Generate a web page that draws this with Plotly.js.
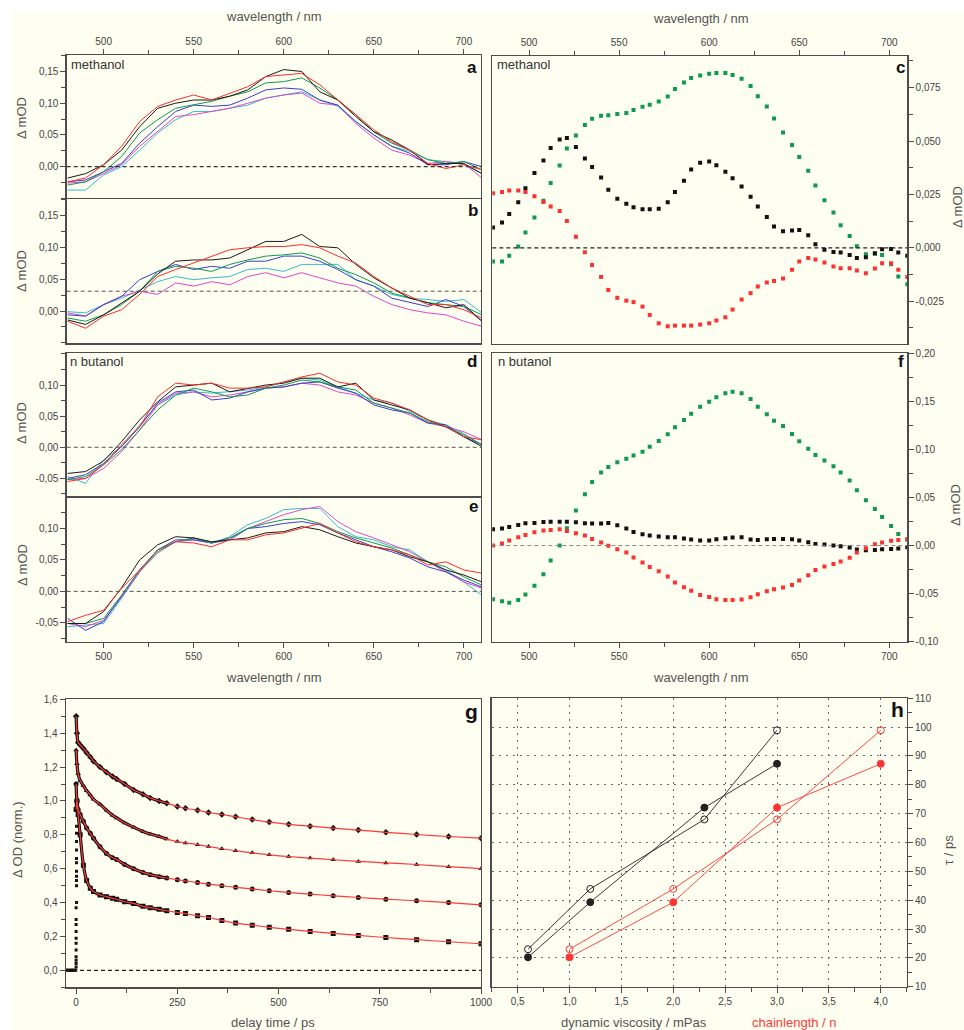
<!DOCTYPE html>
<html>
<head>
<meta charset="utf-8">
<script src="https://cdn.plot.ly/plotly-3.0.1.min.js"></script>
<style>
  html, body { margin: 0; padding: 0; background: #ffffff; }
  #chart { width: 964px; height: 1030px; }
</style>
</head>
<body>
<div id="chart"></div>
<script>
// ---------- transient spectra (a, b: methanol; d, e: n-butanol), ΔmOD vs wavelength ----------
const specNm = [480,490,500,510,520,530,540,550,560,570,580,590,600,610,620,630,640,650,660,670,680,690,700,710];

const aBlack   = [-0.018,-0.011,0.003,0.026,0.063,0.092,0.100,0.105,0.105,0.111,0.121,0.142,0.153,0.150,0.118,0.105,0.079,0.055,0.042,0.026,0.003,0.005,0.005,-0.011];
const aRed     = [-0.024,-0.018,0.003,0.032,0.071,0.095,0.105,0.113,0.105,0.116,0.126,0.142,0.145,0.147,0.129,0.105,0.082,0.058,0.039,0.026,0.005,-0.003,0.003,-0.005];
const aGreen   = [-0.029,-0.024,-0.008,0.016,0.053,0.074,0.092,0.097,0.103,0.111,0.118,0.132,0.134,0.140,0.124,0.105,0.082,0.055,0.037,0.026,0.011,0.005,0.008,-0.005];
const aBlue    = [-0.024,-0.021,-0.008,0.005,0.037,0.063,0.087,0.097,0.095,0.097,0.108,0.121,0.124,0.122,0.105,0.097,0.071,0.050,0.032,0.021,0.003,0.003,0.008,0.000];
const aMagenta = [-0.026,-0.024,-0.011,0.003,0.032,0.055,0.079,0.082,0.087,0.092,0.100,0.108,0.113,0.116,0.100,0.097,0.068,0.045,0.026,0.018,0.005,0.008,0.005,-0.018];
const aCyan    = [-0.037,-0.037,-0.013,0.000,0.026,0.053,0.074,0.087,0.087,0.092,0.097,0.108,0.113,0.118,0.105,0.095,0.071,0.050,0.032,0.024,0.011,0.008,0.003,-0.011];

const bBlack   = [-0.014,-0.021,-0.006,0.013,0.031,0.058,0.078,0.080,0.080,0.083,0.096,0.109,0.109,0.120,0.101,0.099,0.073,0.052,0.036,0.020,0.013,0.005,0.010,-0.016];
const bRed     = [-0.016,-0.027,-0.008,0.002,0.026,0.054,0.065,0.075,0.086,0.096,0.099,0.101,0.101,0.104,0.099,0.086,0.075,0.054,0.036,0.023,0.010,0.010,0.002,-0.011];
const bGreen   = [-0.011,-0.016,-0.006,0.010,0.031,0.062,0.070,0.067,0.062,0.073,0.080,0.086,0.088,0.091,0.083,0.067,0.057,0.044,0.028,0.020,0.013,0.010,0.007,-0.006];
const bBlue    = [-0.006,-0.008,0.010,0.023,0.049,0.062,0.073,0.065,0.070,0.067,0.078,0.078,0.086,0.086,0.078,0.065,0.049,0.039,0.020,0.013,0.007,0.018,0.007,-0.016];
const bMagenta = [-0.003,-0.008,0.010,0.023,0.031,0.026,0.044,0.039,0.046,0.041,0.054,0.060,0.052,0.060,0.052,0.044,0.039,0.023,0.010,0.002,-0.003,-0.006,-0.016,-0.024];
const bCyan    = [-0.001,-0.003,0.010,0.020,0.033,0.046,0.054,0.049,0.052,0.054,0.065,0.067,0.062,0.073,0.073,0.073,0.049,0.039,0.026,0.020,0.018,0.015,0.018,-0.003];
const bBaseline = 0.031;

const dBlack   = [-0.042,-0.039,-0.022,0.009,0.044,0.073,0.097,0.100,0.103,0.089,0.095,0.100,0.103,0.111,0.111,0.097,0.103,0.076,0.068,0.060,0.044,0.033,0.017,0.001];
const dRed     = [-0.055,-0.050,-0.028,0.004,0.033,0.081,0.103,0.100,0.103,0.095,0.095,0.097,0.105,0.113,0.119,0.105,0.100,0.079,0.071,0.060,0.044,0.033,0.017,0.012];
const dGreen   = [-0.052,-0.047,-0.028,-0.004,0.028,0.060,0.084,0.095,0.089,0.081,0.084,0.095,0.100,0.108,0.105,0.097,0.092,0.071,0.063,0.055,0.041,0.033,0.020,0.004];
const dBlue    = [-0.050,-0.044,-0.026,0.001,0.033,0.071,0.089,0.092,0.076,0.079,0.089,0.095,0.097,0.103,0.105,0.095,0.087,0.068,0.060,0.055,0.039,0.036,0.017,0.004];
const dMagenta = [-0.052,-0.050,-0.034,-0.007,0.028,0.068,0.087,0.089,0.081,0.084,0.089,0.095,0.097,0.103,0.100,0.089,0.084,0.071,0.063,0.052,0.039,0.033,0.025,0.012];
const dCyan    = [-0.047,-0.058,-0.020,0.001,0.036,0.068,0.084,0.089,0.087,0.089,0.092,0.097,0.105,0.111,0.108,0.097,0.087,0.076,0.071,0.057,0.044,0.036,0.022,0.004];

const eBlack   = [-0.051,-0.051,-0.032,0.006,0.050,0.074,0.087,0.085,0.079,0.082,0.085,0.093,0.095,0.103,0.098,0.087,0.077,0.071,0.066,0.055,0.047,0.034,0.026,0.015];
const eRed     = [-0.048,-0.038,-0.030,0.005,0.034,0.063,0.079,0.077,0.071,0.082,0.082,0.090,0.093,0.100,0.108,0.093,0.079,0.071,0.066,0.058,0.042,0.047,0.034,0.029];
const eGreen   = [-0.051,-0.051,-0.043,-0.006,0.034,0.066,0.079,0.085,0.077,0.085,0.100,0.108,0.114,0.116,0.108,0.095,0.085,0.077,0.069,0.058,0.047,0.039,0.023,0.010];
const eBlue    = [-0.043,-0.062,-0.048,-0.006,0.034,0.066,0.082,0.082,0.077,0.082,0.100,0.103,0.108,0.111,0.106,0.093,0.082,0.071,0.063,0.053,0.039,0.031,0.018,0.007];
const eMagenta = [-0.051,-0.056,-0.046,-0.009,0.031,0.066,0.079,0.082,0.077,0.085,0.100,0.111,0.122,0.130,0.135,0.111,0.095,0.085,0.074,0.063,0.047,0.031,0.015,0.005];
const eCyan    = [-0.056,-0.054,-0.051,-0.011,0.031,0.061,0.079,0.085,0.077,0.087,0.106,0.116,0.130,0.132,0.132,0.103,0.087,0.082,0.071,0.066,0.047,0.034,0.015,-0.006];

// ---------- decay-associated amplitudes (c: methanol, f: n-butanol) ----------
const dotNm = [480,485,489,494,498,503,508,512,517,521,526,531,535,540,544,549,554,558,563,567,572,577,581,586,590,595,600,604,609,613,618,623,627,632,636,641,646,650,655,659,664,669,673,678,682,687,692,696,701,705,710];

const cGreen = [-0.0064,-0.0064,-0.0037,0.0006,0.0072,0.0142,0.0220,0.0303,0.0386,0.0465,0.0526,0.0575,0.0604,0.0618,0.0621,0.0626,0.0631,0.0645,0.0660,0.0670,0.0685,0.0709,0.0743,0.0774,0.0795,0.0807,0.0815,0.0818,0.0818,0.0809,0.0792,0.0757,0.0710,0.0662,0.0606,0.0540,0.0482,0.0425,0.0361,0.0292,0.0223,0.0165,0.0106,0.0056,0.0008,-0.0030,-0.0028,-0.0033,-0.0077,-0.0134,-0.0170];
const cBlack = [0.0095,0.0119,0.0159,0.0214,0.0279,0.0350,0.0409,0.0467,0.0507,0.0514,0.0472,0.0418,0.0378,0.0329,0.0272,0.0230,0.0206,0.0190,0.0181,0.0181,0.0183,0.0214,0.0261,0.0314,0.0367,0.0398,0.0404,0.0387,0.0356,0.0326,0.0287,0.0239,0.0194,0.0144,0.0100,0.0078,0.0081,0.0084,0.0059,0.0017,-0.0009,-0.0019,-0.0022,-0.0033,-0.0047,-0.0044,-0.0025,-0.0006,-0.0005,-0.0022,-0.0037];
const cRed   = [0.0256,0.0262,0.0269,0.0269,0.0261,0.0242,0.0215,0.0194,0.0172,0.0126,0.0052,-0.0020,-0.0080,-0.0136,-0.0197,-0.0234,-0.0247,-0.0254,-0.0275,-0.0314,-0.0353,-0.0367,-0.0364,-0.0364,-0.0364,-0.0359,-0.0353,-0.0340,-0.0325,-0.0289,-0.0242,-0.0212,-0.0181,-0.0162,-0.0155,-0.0144,-0.0103,-0.0064,-0.0048,-0.0055,-0.0069,-0.0087,-0.0095,-0.0095,-0.0106,-0.0119,-0.0097,-0.0072,-0.0072,-0.0103,-0.0136];

const fGreen = [-0.0558,-0.0579,-0.0596,-0.0565,-0.0509,-0.0419,-0.0298,-0.0156,0.0000,0.0180,0.0364,0.0534,0.0662,0.0759,0.0818,0.0866,0.0904,0.0936,0.0977,0.1029,0.1088,0.1157,0.1230,0.1306,0.1372,0.1445,0.1497,0.1542,0.1584,0.1601,0.1584,0.1525,0.1445,0.1365,0.1299,0.1244,0.1161,0.1085,0.1008,0.0942,0.0884,0.0825,0.0759,0.0676,0.0575,0.0471,0.0381,0.0298,0.0204,0.0121,0.0062];
const fBlack = [0.0170,0.0177,0.0194,0.0215,0.0232,0.0236,0.0246,0.0249,0.0249,0.0249,0.0243,0.0232,0.0229,0.0229,0.0236,0.0211,0.0177,0.0142,0.0118,0.0104,0.0094,0.0087,0.0087,0.0073,0.0062,0.0052,0.0052,0.0066,0.0076,0.0083,0.0087,0.0062,0.0059,0.0066,0.0069,0.0069,0.0066,0.0052,0.0035,0.0017,0.0010,0.0000,-0.0007,-0.0021,-0.0042,-0.0049,-0.0045,-0.0038,-0.0035,-0.0031,-0.0017];
const fRed   = [0.0000,0.0021,0.0052,0.0087,0.0111,0.0139,0.0156,0.0163,0.0170,0.0152,0.0128,0.0104,0.0069,0.0031,-0.0003,-0.0038,-0.0073,-0.0125,-0.0177,-0.0222,-0.0267,-0.0322,-0.0385,-0.0433,-0.0471,-0.0513,-0.0534,-0.0558,-0.0565,-0.0565,-0.0561,-0.0537,-0.0506,-0.0475,-0.0454,-0.0437,-0.0409,-0.0364,-0.0308,-0.0253,-0.0218,-0.0191,-0.0166,-0.0128,-0.0073,-0.0028,0.0014,0.0031,0.0049,0.0059,0.0066];

// ---------- normalised kinetics (g), ΔOD vs delay time ----------
const gT  = [0,2,5,10,18,26,35,43,59,75,90,100,120,142,165,183,205,224,250,270,300,327,360,394,435,477,525,578,635,697,765,841,920,1000];
const g1V = [1.50,1.40,1.345,1.33,1.31,1.285,1.26,1.235,1.20,1.17,1.145,1.13,1.10,1.065,1.04,1.018,1.00,0.987,0.967,0.957,0.945,0.932,0.92,0.906,0.89,0.875,0.862,0.851,0.84,0.828,0.815,0.802,0.79,0.78];
const g2V = [1.30,1.22,1.16,1.12,1.09,1.06,1.035,1.01,0.98,0.945,0.915,0.90,0.87,0.845,0.82,0.805,0.79,0.775,0.76,0.752,0.742,0.731,0.718,0.706,0.694,0.682,0.672,0.663,0.653,0.643,0.634,0.625,0.612,0.60];
const g3V = [1.10,1.00,0.95,0.92,0.88,0.84,0.81,0.78,0.73,0.69,0.665,0.655,0.625,0.600,0.578,0.565,0.553,0.545,0.535,0.528,0.518,0.509,0.50,0.49,0.48,0.47,0.46,0.45,0.44,0.43,0.42,0.411,0.40,0.387];
const g4V = [0.95,1.00,0.92,0.80,0.62,0.53,0.485,0.465,0.445,0.435,0.425,0.42,0.405,0.395,0.378,0.37,0.36,0.352,0.342,0.335,0.322,0.312,0.295,0.279,0.267,0.254,0.242,0.23,0.218,0.206,0.194,0.181,0.169,0.157];
// pre-zero baseline and the instrument-limited rise
const gRiseT = [-24,-21,-18,-15,-12,-9,-6,-3,-1, 0,0,0,0,0,0,0,0,0,0,0, 1,1,1,1,1,1,1,1,1,1,1];
const gRiseV = [0,0,0,0,0,0,0,0,0, 0.02,0.04,0.06,0.08,0.12,0.16,0.19,0.23,0.27,0.30,0.37, 0.40,0.50,0.53,0.555,0.585,0.635,0.66,0.71,0.76,0.81,0.85];

// ---------- lifetimes (h) ----------
const hViscosity = [0.6, 1.2, 2.3, 3.0];
const hChain     = [1, 2, 3, 4];
const hTauFilled = [20.2, 39.3, 72.1, 87.3];
const hTauOpen   = [23.0, 43.9, 68.0, 98.9];

// ---------- tick labels ----------
const nmTickVals = [500, 550, 600, 650, 700];
const nmTickText = ['500', '550', '600', '650', '700'];
const abTickVals = [0, 0.05, 0.10, 0.15];
const abTickText = ['0,00', '0,05', '0,10', '0,15'];
const deTickVals = [-0.05, 0, 0.05, 0.10];
const deTickText = ['-0,05', '0,00', '0,05', '0,10'];
const cTickVals  = [-0.025, 0, 0.025, 0.05, 0.075];
const cTickText  = ['-0,025', '0,000', '0,025', '0,050', '0,075'];
const fTickVals  = [-0.10, -0.05, 0, 0.05, 0.10, 0.15, 0.20];
const fTickText  = ['-0,10', '-0,05', '0,00', '0,05', '0,10', '0,15', '0,20'];
const gYTickVals = [0, 0.2, 0.4, 0.6, 0.8, 1.0, 1.2, 1.4, 1.6];
const gYTickText = ['0,0', '0,2', '0,4', '0,6', '0,8', '1,0', '1,2', '1,4', '1,6'];
const gXTickVals = [0, 250, 500, 750, 1000];
const gXTickText = ['0', '250', '500', '750', '1000'];
const hXTickVals = [0.5, 1.0, 1.5, 2.0, 2.5, 3.0, 3.5, 4.0];
const hXTickText = ['0,5', '1,0', '1,5', '2,0', '2,5', '3,0', '3,5', '4,0'];
const hYTickVals = [10, 20, 30, 40, 50, 60, 70, 80, 90, 100, 110];
const hYTickText = ['10', '20', '30', '40', '50', '60', '70', '80', '90', '100', '110'];

// ---------- styling ----------
const W = 964, H = 1030;
const CREAM = '#fefef1';
const FONT = 'Liberation Sans, Arial, Helvetica, sans-serif';
const COL = { black: '#1a1a1a', red: '#ff2b2b', green: '#109a50', blue: '#3c3cd0', magenta: '#e048c8', cyan: '#36bccb' };

const xd = (l, r) => [l / W, r / W];
const yd = (t, b) => [1 - b / H, 1 - t / H];

function axis(opts) {
  return Object.assign({
    showline: true, linecolor: '#4d4d4d', linewidth: 1.3, mirror: true,
    ticks: 'outside', ticklen: 5, tickwidth: 1, tickcolor: '#4d4d4d',
    tickmode: 'array',
    tickfont: { family: FONT, size: 10, color: '#444' },
    showgrid: false, zeroline: false, fixedrange: true
  }, opts);
}
function minor(dtick, tick0) {
  return { tickmode: 'linear', dtick: dtick, tick0: tick0, ticks: 'outside', ticklen: 4, tickcolor: '#4d4d4d', showgrid: false };
}

function lines(x, y, color, xa, ya) {
  return { type: 'scatter', mode: 'lines', x: x, y: y, xaxis: xa, yaxis: ya,
           line: { color: color, width: 1 }, hoverinfo: 'skip' };
}
function dots(x, y, color, xa, ya) {
  return { type: 'scatter', mode: 'markers', x: x, y: y, xaxis: xa, yaxis: ya,
           marker: { symbol: 'square', size: 4, color: color }, hoverinfo: 'skip' };
}
function spectraSet(sets, xa, ya) {
  return sets.map(([y, c]) => lines(specNm, y, c, xa, ya));
}

const traces = [];
traces.push(...spectraSet([[aCyan, COL.cyan], [aMagenta, COL.magenta], [aBlue, COL.blue], [aGreen, COL.green], [aBlack, COL.black], [aRed, COL.red]], 'x', 'y'));
traces.push(...spectraSet([[bCyan, COL.cyan], [bMagenta, COL.magenta], [bBlue, COL.blue], [bGreen, COL.green], [bBlack, COL.black], [bRed, COL.red]], 'x2', 'y2'));
traces.push(...spectraSet([[dCyan, COL.cyan], [dMagenta, COL.magenta], [dBlue, COL.blue], [dGreen, COL.green], [dBlack, COL.black], [dRed, COL.red]], 'x4', 'y4'));
traces.push(...spectraSet([[eCyan, COL.cyan], [eMagenta, COL.magenta], [eBlue, COL.blue], [eGreen, COL.green], [eBlack, COL.black], [eRed, COL.red]], 'x5', 'y5'));

traces.push(dots(dotNm, cGreen, COL.green, 'x3', 'y3'), dots(dotNm, cBlack, '#111', 'x3', 'y3'), dots(dotNm, cRed, '#ff3030', 'x3', 'y3'));
traces.push(dots(dotNm, fGreen, COL.green, 'x6', 'y6'), dots(dotNm, fBlack, '#111', 'x6', 'y6'), dots(dotNm, fRed, '#ff3030', 'x6', 'y6'));

// kinetics: dense early data shown as a black band, markers, then the red fit on top
const kinetic = [[g1V, 'diamond'], [g2V, 'triangle-up'], [g3V, 'circle'], [g4V, 'square']];
const earlyN = 18;
kinetic.forEach(([v]) => {
  traces.push({ type: 'scatter', mode: 'lines', x: gT.slice(0, earlyN), y: v.slice(0, earlyN),
    xaxis: 'x7', yaxis: 'y7', line: { color: '#111', width: 3.2, shape: 'spline' }, hoverinfo: 'skip' });
});
kinetic.forEach(([v, sym]) => {
  traces.push({ type: 'scatter', mode: 'markers', x: gT, y: v, xaxis: 'x7', yaxis: 'y7',
    marker: { symbol: sym, size: 5, color: '#111' }, hoverinfo: 'skip' });
});
traces.push({ type: 'scatter', mode: 'markers', x: gRiseT, y: gRiseV, xaxis: 'x7', yaxis: 'y7',
  marker: { symbol: 'square', size: 3, color: '#111' }, hoverinfo: 'skip' });
kinetic.forEach(([v]) => {
  traces.push({ type: 'scatter', mode: 'lines', x: gT, y: v, xaxis: 'x7', yaxis: 'y7',
    line: { color: '#ff3a3a', width: 1.2, shape: 'spline', smoothing: 0.6 }, hoverinfo: 'skip' });
});

// lifetimes vs viscosity (black) and vs chain length (red)
function lifetime(x, y, color, symbol) {
  return { type: 'scatter', mode: 'lines+markers', x: x, y: y, xaxis: 'x8', yaxis: 'y8',
    line: { color: color, width: 0.9 },
    marker: { symbol: symbol, size: 7, color: color, line: { color: color, width: 1 } }, hoverinfo: 'skip' };
}
traces.push(lifetime(hViscosity, hTauOpen, '#222', 'circle-open'));
traces.push(lifetime(hViscosity, hTauFilled, '#222', 'circle'));
traces.push(lifetime(hChain, hTauOpen, '#ff3333', 'circle-open'));
traces.push(lifetime(hChain, hTauFilled, '#ff3333', 'circle'));

// ---------- layout ----------
const L = { x: xd(66.7, 481), xr: xd(492.3, 907.3) };

const layout = {
  width: W, height: H,
  margin: { l: 0, r: 0, t: 0, b: 0 },
  paper_bgcolor: '#ffffff', plot_bgcolor: 'rgba(0,0,0,0)',
  showlegend: false,
  font: { family: FONT, color: '#444' },

  // stacked pairs share one boundary line: the upper frame keeps only its outer edge
  xaxis:  axis({ domain: L.x, range: [479.5, 709.5], anchor: 'y', side: 'top', mirror: false, tickvals: nmTickVals, ticktext: nmTickText, minor: minor(25, 0) }),
  yaxis:  axis({ domain: yd(55, 199.3), range: [-0.0515, 0.176], anchor: 'x', tickvals: abTickVals, ticktext: abTickText, minor: minor(0.025, 0) }),
  xaxis2: axis({ domain: L.x, range: [479.5, 709.5], anchor: 'y2', ticks: '', showticklabels: false }),
  yaxis2: axis({ domain: yd(199.3, 343.3), range: [-0.0506, 0.175], anchor: 'x2', tickvals: abTickVals, ticktext: abTickText, minor: minor(0.025, 0) }),

  xaxis3: axis({ domain: L.xr, range: [479.6, 710], anchor: 'y3', side: 'top', tickvals: nmTickVals, ticktext: nmTickText, minor: minor(25, 0) }),
  yaxis3: axis({ domain: yd(56, 344), range: [-0.045, 0.0898], anchor: 'x3', side: 'right', tickvals: cTickVals, ticktext: cTickText, minor: minor(0.0125, 0) }),

  xaxis4: axis({ domain: L.x, range: [479.5, 709.5], anchor: 'y4', side: 'top', mirror: false, ticks: '', showticklabels: false }),
  yaxis4: axis({ domain: yd(353.3, 497.7), range: [-0.081, 0.151], anchor: 'x4', tickvals: deTickVals, ticktext: deTickText, minor: minor(0.025, 0) }),
  xaxis5: axis({ domain: L.x, range: [479.5, 709.5], anchor: 'y5', tickvals: nmTickVals, ticktext: nmTickText, minor: minor(25, 0) }),
  yaxis5: axis({ domain: yd(497.7, 641.7), range: [-0.080, 0.149], anchor: 'x5', tickvals: deTickVals, ticktext: deTickText, minor: minor(0.025, 0) }),

  xaxis6: axis({ domain: L.xr, range: [479.6, 710], anchor: 'y6', tickvals: nmTickVals, ticktext: nmTickText, minor: minor(25, 0) }),
  yaxis6: axis({ domain: yd(353.3, 641.7), range: [-0.10, 0.20], anchor: 'x6', side: 'right', tickvals: fTickVals, ticktext: fTickText, minor: minor(0.025, 0) }),

  xaxis7: axis({ domain: xd(66, 481), range: [-25, 1000], anchor: 'y7', tickvals: gXTickVals, ticktext: gXTickText, minor: minor(125, 0) }),
  yaxis7: axis({ domain: yd(699.3, 987.3), range: [-0.1, 1.6], anchor: 'x7', tickvals: gYTickVals, ticktext: gYTickText, minor: minor(0.1, 0) }),

  xaxis8: axis({ domain: xd(491.7, 906.7), range: [0.25, 4.25], anchor: 'y8', tickvals: hXTickVals, ticktext: hXTickText, minor: minor(0.25, 0),
                 showgrid: true, gridcolor: '#6a6a6a', gridwidth: 1, griddash: '2px,5px' }),
  yaxis8: axis({ domain: yd(698.3, 986.7), range: [10, 110], anchor: 'x8', side: 'right', tickvals: hYTickVals, ticktext: hYTickText, minor: minor(5, 0),
                 showgrid: true, gridcolor: '#6a6a6a', gridwidth: 1, griddash: '2px,5px' }),

  shapes: [
    { type: 'rect', xref: 'paper', yref: 'paper', x0: 12 / W, x1: 1, y0: 0, y1: 1 - 12 / H,
      fillcolor: CREAM, line: { width: 0 }, layer: 'below' },
    { type: 'line', xref: 'x domain', yref: 'y', x0: 0, x1: 1, y0: 0, y1: 0, line: { color: '#333', width: 1.4, dash: '4px,3px' } },
    { type: 'line', xref: 'x2 domain', yref: 'y2', x0: 0, x1: 1, y0: bBaseline, y1: bBaseline, line: { color: '#555', width: 1, dash: '4px,3px' } },
    { type: 'line', xref: 'x3 domain', yref: 'y3', x0: 0, x1: 1, y0: 0, y1: 0, line: { color: '#222', width: 1.4, dash: '4px,3px' } },
    { type: 'line', xref: 'x4 domain', yref: 'y4', x0: 0, x1: 1, y0: 0, y1: 0, line: { color: '#555', width: 1, dash: '4px,3px' } },
    { type: 'line', xref: 'x5 domain', yref: 'y5', x0: 0, x1: 1, y0: 0, y1: 0, line: { color: '#555', width: 1, dash: '4px,3px' } },
    { type: 'line', xref: 'x6 domain', yref: 'y6', x0: 0, x1: 1, y0: 0, y1: 0, line: { color: '#888', width: 1, dash: '4px,3px' } },
    { type: 'line', xref: 'x7 domain', yref: 'y7', x0: 0, x1: 1, y0: 0, y1: 0, line: { color: '#222', width: 1.3, dash: '4px,3px' } }
  ],
  annotations: []
};

function note(text, X, Y, o) {
  o = o || {};
  layout.annotations.push({
    text: text, xref: 'paper', yref: 'paper', x: X / W, y: 1 - Y / H,
    xanchor: o.xanchor || 'center', yanchor: 'middle', showarrow: false,
    textangle: o.angle || 0,
    font: { family: FONT, size: o.size || 13, color: o.color || '#555', weight: o.weight || 'normal' }
  });
}

// axis titles
note('wavelength / nm', 274, 17);
note('wavelength / nm', 701, 18);
note('wavelength / nm', 274, 677);
note('wavelength / nm', 701, 677);
note('delay time / ps', 273, 1022);
note('dynamic viscosity / mPas', 634, 1022);
note('chainlength / n', 794, 1022, { color: '#ff3a3a' });
note('Δ mOD', 22, 118, { angle: -90 });
note('Δ mOD', 22, 271, { angle: -90 });
note('Δ mOD', 22, 423, { angle: -90 });
note('Δ mOD', 22, 565, { angle: -90 });
note('Δ mOD', 957, 207, { angle: -90 });
note('Δ mOD', 955, 505, { angle: -90 });
note('Δ OD (norm.)', 17, 840, { angle: -90 });
note('τ / ps', 948, 850, { angle: -90 });

// solvent labels
note('methanol', 68.5, 64.5, { xanchor: 'left', color: '#333' });
note('methanol', 494.5, 65, { xanchor: 'left', color: '#333' });
note('n butanol', 68, 361, { xanchor: 'left', color: '#333' });
note('n butanol', 495.5, 362, { xanchor: 'left', color: '#333' });

// panel letters
note('a', 472, 67, { size: 17, weight: 'bold', color: '#111' });
note('b', 472.5, 210, { size: 17, weight: 'bold', color: '#111' });
note('c', 900.5, 68, { size: 17, weight: 'bold', color: '#111' });
note('d', 472, 361, { size: 17, weight: 'bold', color: '#111' });
note('e', 473, 506, { size: 17, weight: 'bold', color: '#111' });
note('f', 900.5, 362, { size: 17, weight: 'bold', color: '#111' });
note('g', 471.5, 711, { size: 21, weight: 'bold', color: '#111' });
note('h', 897.5, 709, { size: 21, weight: 'bold', color: '#111' });

Plotly.newPlot('chart', traces, layout, { staticPlot: true, displayModeBar: false });
</script>
</body>
</html>
